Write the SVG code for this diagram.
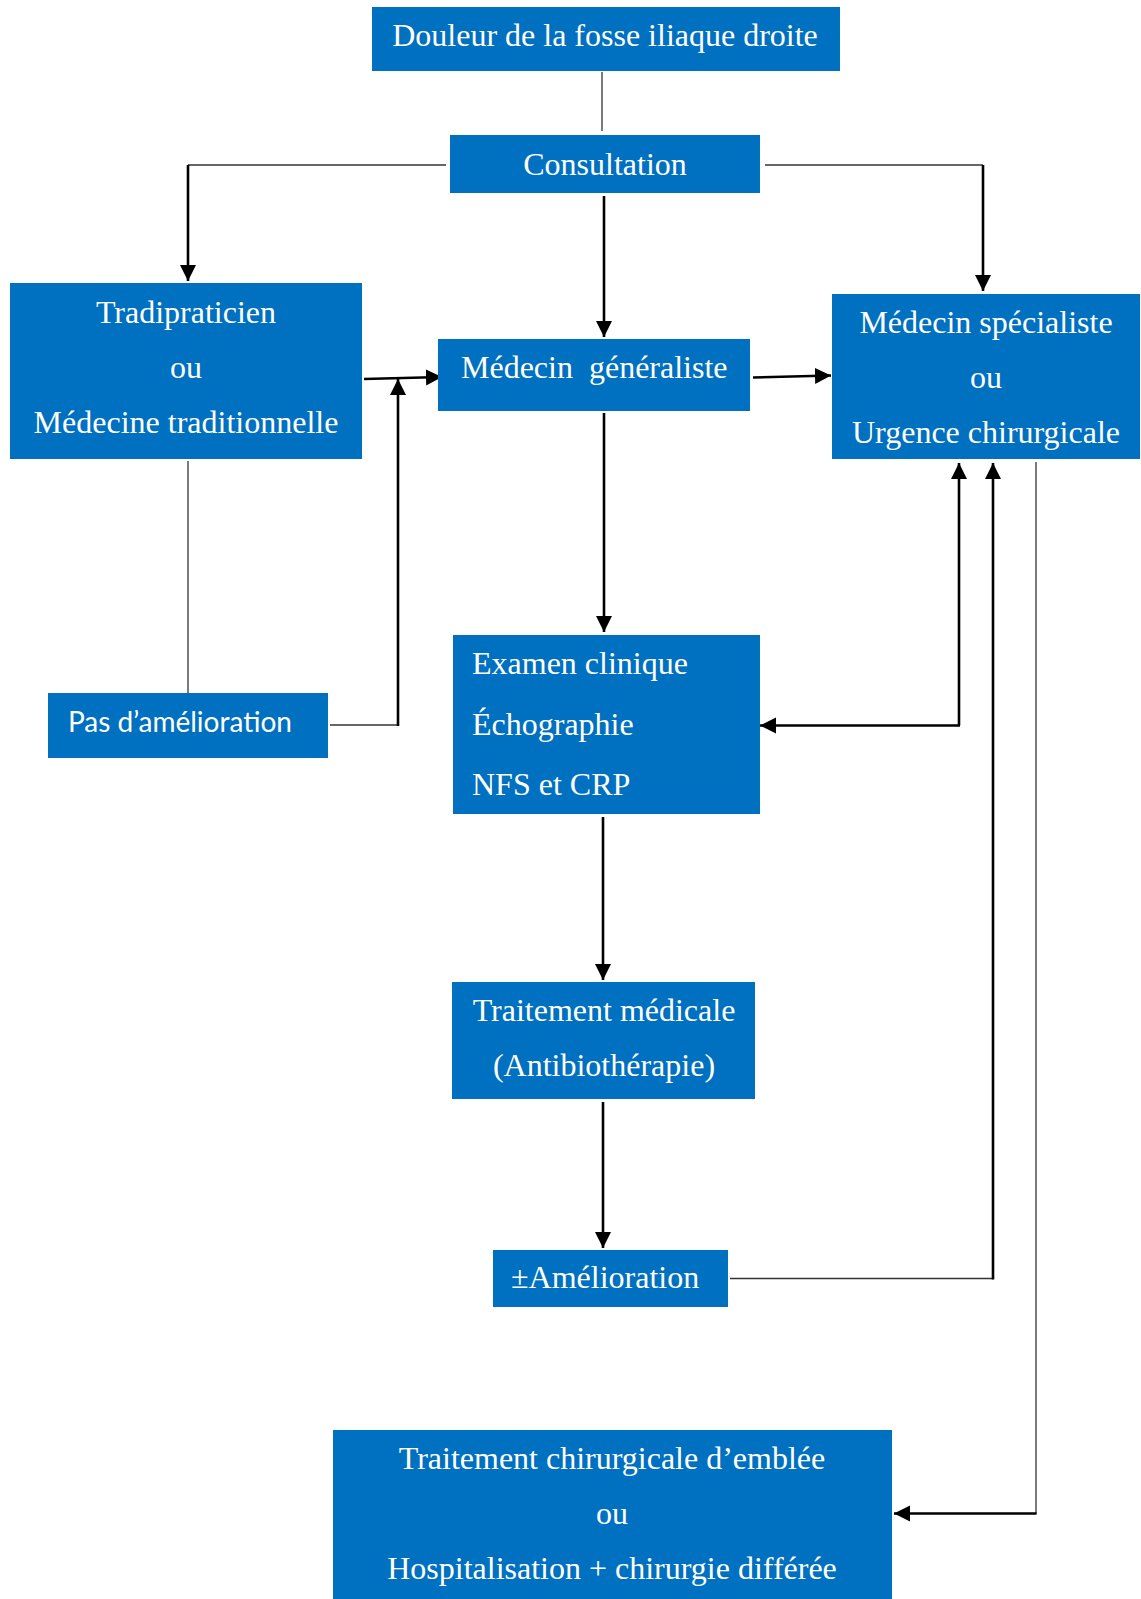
<svg xmlns="http://www.w3.org/2000/svg" width="1141" height="1599" viewBox="0 0 1141 1599">
<style>
.box{fill:#0070C0}
.t{font-family:"Liberation Serif","Times New Roman",serif;font-size:32px;fill:#ffffff}
.c{text-anchor:middle}
.s{font-family:Lato,"Liberation Sans",sans-serif;font-size:28px;fill:#ffffff}
.thin{fill:none;stroke:#333333;stroke-width:1.3}
.thick{fill:none;stroke:#000000;stroke-width:2.6}
</style>
<defs>
<marker id="arr" markerUnits="userSpaceOnUse" markerWidth="17" markerHeight="17" viewBox="0 0 17 17" refX="16" refY="8.5" orient="auto">
<path d="M0,0.5 L16,8.5 L0,16.5 z" fill="#000"/>
</marker>
</defs>
<rect width="1141" height="1599" fill="#ffffff"/>
<g id="connectors">
<line class="thin" x1="602" y1="72" x2="602" y2="131"/>
<polyline class="thin" points="446,165 188,165"/>
<line class="thick" x1="188" y1="165" x2="188" y2="281" marker-end="url(#arr)"/>
<polyline class="thin" points="765,165 983,165"/>
<line class="thick" x1="983" y1="165" x2="983" y2="291" marker-end="url(#arr)"/>
<line class="thick" x1="604" y1="196" x2="604" y2="337" marker-end="url(#arr)"/>
<line class="thick" x1="364" y1="379" x2="442" y2="377" marker-end="url(#arr)"/>
<line class="thick" x1="753" y1="377.5" x2="831" y2="375.5" marker-end="url(#arr)"/>
<line class="thin" x1="188" y1="461" x2="188" y2="693"/>
<line class="thin" x1="330" y1="725" x2="398" y2="725"/>
<line class="thick" x1="398" y1="726" x2="398" y2="379" marker-end="url(#arr)"/>
<line class="thick" x1="604" y1="413" x2="604" y2="632" marker-end="url(#arr)"/>
<polyline class="thick" points="959,725.5 959,463" marker-end="url(#arr)"/>
<line class="thick" x1="960" y1="725.5" x2="760" y2="725.5" marker-end="url(#arr)"/>
<line class="thick" x1="603" y1="817" x2="603" y2="980" marker-end="url(#arr)"/>
<line class="thick" x1="603" y1="1102" x2="603" y2="1248" marker-end="url(#arr)"/>
<line class="thin" x1="730" y1="1278.5" x2="993" y2="1278.5"/>
<line class="thick" x1="993" y1="1279.5" x2="993" y2="463" marker-end="url(#arr)"/>
<line class="thin" x1="1036" y1="462" x2="1036" y2="1514"/>
<line class="thick" x1="1036.5" y1="1513.5" x2="894" y2="1513.5" marker-end="url(#arr)"/>
</g>
<g id="douleur">
<rect class="box" x="372" y="7" width="468" height="64"/>
<text class="t c" x="605" y="46">Douleur de la fosse iliaque droite</text>
</g>
<g id="consultation">
<rect class="box" x="450" y="135" width="310" height="58"/>
<text class="t c" x="605" y="175">Consultation</text>
</g>
<g id="tradipraticien">
<rect class="box" x="10" y="283" width="352" height="176"/>
<text class="t c" x="186" y="323">Tradipraticien</text>
<text class="t c" x="186" y="378">ou</text>
<text class="t c" x="186" y="433">Médecine traditionnelle</text>
</g>
<g id="generaliste">
<rect class="box" x="438" y="339" width="312" height="72"/>
<text class="t" x="461" y="378" xml:space="preserve">Médecin  généraliste</text>
</g>
<g id="specialiste">
<rect class="box" x="832" y="294" width="308" height="165"/>
<text class="t c" x="986" y="333">Médecin spécialiste</text>
<text class="t c" x="986" y="388">ou</text>
<text class="t c" x="986" y="443">Urgence chirurgicale</text>
</g>
<g id="pas-amelioration">
<rect class="box" x="48" y="693" width="280" height="65"/>
<text class="s" x="68" y="732">Pas d’amélioration</text>
</g>
<g id="examen">
<rect class="box" x="453" y="635" width="307" height="179"/>
<text class="t" x="472" y="674">Examen clinique</text>
<text class="t" x="472" y="735">Échographie</text>
<text class="t" x="472" y="795">NFS et CRP</text>
</g>
<g id="traitement-medical">
<rect class="box" x="452" y="982" width="303" height="117"/>
<text class="t c" x="604" y="1021">Traitement médicale</text>
<text class="t c" x="604" y="1076">(Antibiothérapie)</text>
</g>
<g id="amelioration">
<rect class="box" x="493" y="1250" width="235" height="57"/>
<text class="t" x="511" y="1288">±Amélioration</text>
</g>
<g id="traitement-chirurgical">
<rect class="box" x="333" y="1430" width="559" height="169"/>
<text class="t c" x="612" y="1469">Traitement chirurgicale d’emblée</text>
<text class="t c" x="612" y="1524">ou</text>
<text class="t c" x="612" y="1579">Hospitalisation + chirurgie différée</text>
</g>
</svg>
